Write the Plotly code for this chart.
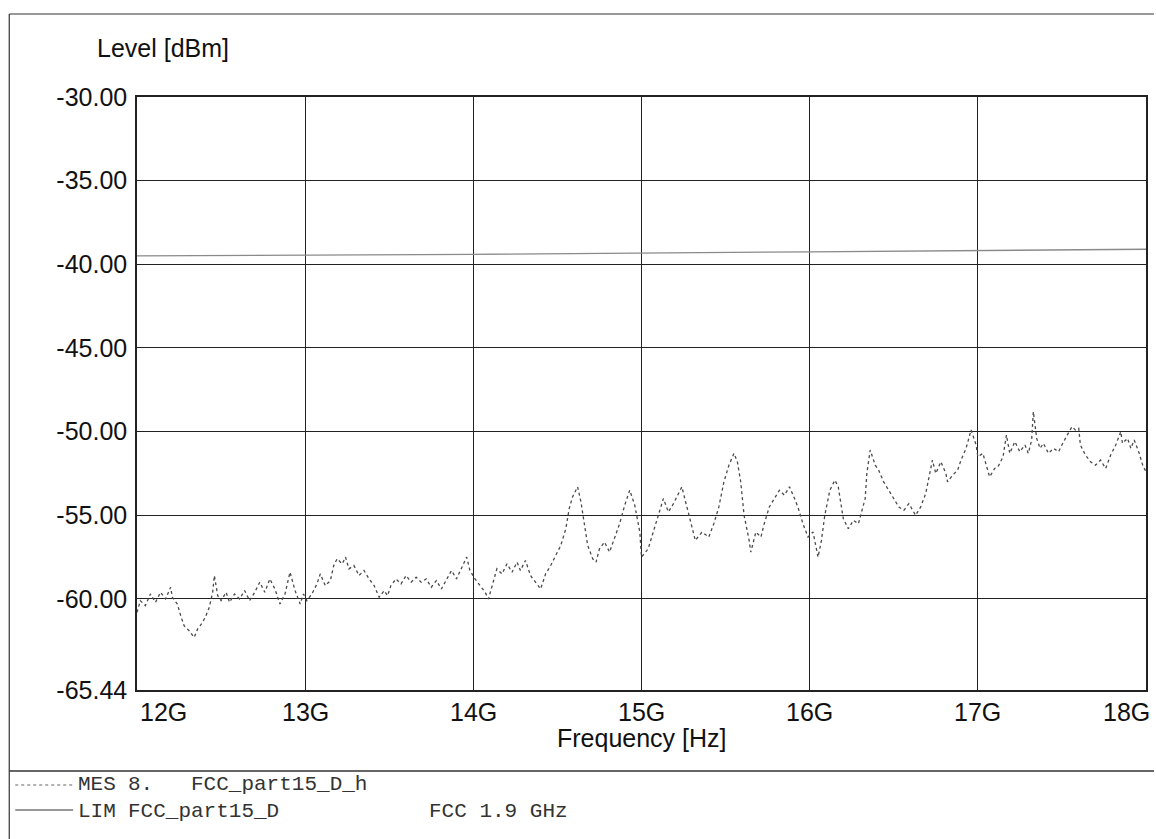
import plotly.graph_objects as go

# ---------------- data ----------------
mes_freq_ghz = [
    12.00, 12.02, 12.05, 12.08, 12.11, 12.14, 12.17, 12.20, 12.21, 12.24,
    12.26, 12.28, 12.31, 12.34, 12.36, 12.39, 12.41, 12.43, 12.45, 12.46,
    12.48, 12.50, 12.53, 12.55, 12.58, 12.61, 12.64, 12.67, 12.70, 12.73,
    12.76, 12.79, 12.82, 12.85, 12.88, 12.91, 12.94, 12.97, 12.99, 13.01,
    13.04, 13.07, 13.09, 13.12, 13.15, 13.17, 13.19, 13.22, 13.24, 13.26,
    13.29, 13.32, 13.35, 13.38, 13.41, 13.44, 13.47, 13.49, 13.51, 13.54,
    13.57, 13.60, 13.63, 13.66, 13.69, 13.72, 13.75, 13.78, 13.81, 13.84,
    13.87, 13.90, 13.93, 13.96, 13.98, 14.01, 14.04, 14.07, 14.09, 14.11,
    14.14, 14.17, 14.20, 14.23, 14.26, 14.28, 14.31, 14.34, 14.37, 14.40,
    14.43, 14.46, 14.49, 14.52, 14.55, 14.57, 14.59, 14.62, 14.64, 14.66,
    14.68, 14.71, 14.73, 14.75, 14.78, 14.81, 14.84, 14.87, 14.90, 14.93,
    14.96, 14.99, 15.00, 15.04, 15.07, 15.10, 15.13, 15.16, 15.19, 15.24,
    15.27, 15.30, 15.32, 15.36, 15.40, 15.43, 15.46, 15.49, 15.52, 15.55,
    15.57, 15.59, 15.61, 15.64, 15.65, 15.68, 15.71, 15.73, 15.76, 15.79,
    15.82, 15.85, 15.88, 15.91, 15.93, 15.96, 15.99, 16.02, 16.05, 16.07,
    16.09, 16.12, 16.15, 16.17, 16.20, 16.23, 16.26, 16.29, 16.33, 16.34,
    16.36, 16.39, 16.41, 16.44, 16.47, 16.50, 16.53, 16.56, 16.59, 16.63,
    16.66, 16.69, 16.71, 16.73, 16.75, 16.78, 16.81, 16.82, 16.85, 16.88,
    16.90, 16.93, 16.96, 16.99, 17.00, 17.03, 17.07, 17.10, 17.12, 17.15,
    17.17, 17.19, 17.22, 17.25, 17.28, 17.30, 17.32, 17.33, 17.35, 17.37,
    17.39, 17.42, 17.45, 17.48, 17.51, 17.54, 17.56, 17.58, 17.60, 17.61,
    17.64, 17.67, 17.70, 17.73, 17.76, 17.79, 17.82, 17.85, 17.86, 17.89,
    17.91, 17.93, 17.96, 17.98, 18.00,
]
mes_level_dbm = [
    -60.8, -60.1, -60.4, -59.7, -60.2, -59.6, -60.0, -59.3, -59.9, -60.3,
    -61.0, -61.6, -61.9, -62.3, -61.8, -61.4, -61.0, -60.5, -59.6, -58.6,
    -59.8, -60.1, -59.6, -60.2, -59.7, -60.0, -59.5, -60.1, -59.6, -59.0,
    -59.6, -58.8, -59.4, -60.3, -59.7, -58.4, -59.5, -60.3, -59.7, -60.1,
    -59.7, -59.1, -58.5, -59.2, -58.9, -58.0, -57.6, -57.9, -57.5, -58.2,
    -58.0, -58.6, -58.3, -58.8, -59.2, -59.9, -59.5, -59.8, -59.2, -58.8,
    -59.1, -58.6, -59.0, -58.7, -59.0, -58.8, -59.3, -58.9, -59.4, -58.8,
    -58.3, -58.8, -58.2, -57.5, -58.3, -58.8, -59.2, -59.6, -60.0, -59.3,
    -58.2, -58.5, -57.9, -58.4, -57.8, -58.3, -57.7, -58.6, -59.0, -59.4,
    -58.5, -58.0, -57.4, -56.8, -55.8, -54.6, -53.9, -53.3, -54.2, -55.5,
    -56.8, -57.6, -57.8, -57.0, -56.6, -57.2, -56.3, -55.5, -54.4, -53.5,
    -54.4, -56.0, -57.5, -57.0, -56.0, -55.0, -54.0, -54.8, -54.3, -53.3,
    -54.5, -55.8, -56.5, -56.0, -56.3, -55.5, -54.5, -53.0, -52.0, -51.3,
    -51.8, -53.0, -55.0, -56.5, -57.2, -56.0, -56.3, -55.5, -54.5, -54.0,
    -53.5, -53.8, -53.3, -54.0, -54.5, -55.5, -56.3, -56.0, -57.5, -56.5,
    -55.0, -53.5, -52.9, -53.3, -55.2, -55.8, -55.3, -55.5, -54.0, -52.5,
    -51.1, -52.0, -52.3, -53.0, -53.5, -54.0, -54.5, -54.7, -54.3, -55.0,
    -54.5, -53.7, -52.8, -51.7, -52.5, -51.8, -52.5, -53.0, -52.6, -52.3,
    -51.7, -51.0, -49.9, -50.8, -51.5, -51.3, -52.7, -52.2, -52.1, -51.5,
    -50.2, -51.3, -50.6, -51.2, -50.8, -51.3, -50.5, -48.8, -50.4, -51.0,
    -50.7, -51.3, -51.0, -51.2, -50.6, -50.1, -49.7, -49.9, -49.8, -50.8,
    -51.4, -51.8, -52.0, -51.7, -52.2, -51.4, -50.8, -50.0, -50.7, -50.4,
    -51.0, -50.5, -51.3, -52.0, -52.4,
]

lim_freq_ghz = [12.0, 14.0, 16.0, 18.0]
lim_level_dbm = [-39.5, -39.4, -39.25, -39.1]

x_tick_vals = [12, 13, 14, 15, 16, 17, 18]
x_tick_text = ["12G", "13G", "14G", "15G", "16G", "17G", "18G"]
y_tick_vals = [-30, -35, -40, -45, -50, -55, -60, -65.44]
y_tick_text = ["-30.00", "-35.00", "-40.00", "-45.00", "-50.00", "-55.00", "-60.00", "-65.44"]

legend_tags = ["MES", "LIM"]
legend_names = ["8.\u00a0\u00a0\u00a0FCC_part15_D_h", "FCC_part15_D"]
legend_note = "FCC 1.9 GHz"

# ---------------- figure ----------------
W, H = 1156, 839
L, R, T, B = 137, 8, 97, 149
pw, ph = W - L - R, H - T - B


def px(xp):
    return (xp - L) / pw


def py(yp):
    return (H - B - yp) / ph


SANS = "Liberation Sans, Arial, sans-serif"
MONO = "Liberation Mono, Courier New, monospace"
FS = 25
MFS = 21

fig = go.Figure()
fig.add_trace(go.Scatter(
    x=lim_freq_ghz, y=lim_level_dbm, mode="lines",
    line=dict(color="#8a8a8a", width=1.3), hoverinfo="skip", showlegend=False))
fig.add_trace(go.Scatter(
    x=mes_freq_ghz, y=mes_level_dbm, mode="lines",
    line=dict(color="#4a4a4a", width=1.3, dash="dot"), showlegend=False))

fig.update_layout(
    width=W, height=H,
    margin=dict(l=L, r=R, t=T, b=B),
    paper_bgcolor="white", plot_bgcolor="white",
    font=dict(family=SANS, size=FS, color="#111"),
    xaxis=dict(range=[12, 18], tickvals=x_tick_vals[1:-1], showticklabels=False,
               showgrid=True, gridcolor="#222", gridwidth=1, zeroline=False,
               showline=True, mirror=True, linecolor="#222", linewidth=1.5, ticks=""),
    yaxis=dict(range=[-65.44, -30], tickvals=y_tick_vals, ticktext=y_tick_text,
               showgrid=True, gridcolor="#222", gridwidth=1, zeroline=False,
               showline=True, mirror=True, linecolor="#222", linewidth=1.5,
               ticks="", ticklabelstandoff=3,
               tickfont=dict(family=SANS, size=FS, color="#111")),
)

annotations = []
for v, t in zip(x_tick_vals, x_tick_text):
    if v == x_tick_vals[0]:
        anc, shift = "left", 1
    elif v == x_tick_vals[-1]:
        anc, shift = "right", 6
    else:
        anc, shift = "center", 0
    annotations.append(dict(x=v, xref="x", y=py(696), yref="paper", text=t,
                            showarrow=False, xanchor=anc, yanchor="top", xshift=shift,
                            font=dict(family=SANS, size=FS, color="#111")))
annotations.append(dict(x=px(643), xref="paper", y=py(738), yref="paper", text="Frequency [Hz]",
                        showarrow=False, xanchor="center", yanchor="middle",
                        font=dict(family=SANS, size=FS, color="#111")))
annotations.append(dict(x=px(95), xref="paper", y=py(48), yref="paper", text="Level [dBm]",
                        showarrow=False, xanchor="left", yanchor="middle",
                        font=dict(family=SANS, size=FS, color="#111")))

# legend block (two rows per column, one text each)
legend_mid = 797.5
annotations.append(dict(x=px(76), xref="paper", y=py(legend_mid), yref="paper",
                        text="<br>".join(legend_tags), align="left",
                        showarrow=False, xanchor="left", yanchor="middle",
                        font=dict(family=MONO, size=MFS, color="#333")))
annotations.append(dict(x=px(126), xref="paper", y=py(legend_mid), yref="paper",
                        text="<br>".join(legend_names), align="left",
                        showarrow=False, xanchor="left", yanchor="middle",
                        font=dict(family=MONO, size=MFS, color="#333")))
annotations.append(dict(x=px(428), xref="paper", y=py(811), yref="paper",
                        text=legend_note, align="left",
                        showarrow=False, xanchor="left", yanchor="middle",
                        font=dict(family=MONO, size=MFS, color="#333")))
fig.update_layout(annotations=annotations)

shapes = [
    # outer frame
    dict(type="line", xref="paper", yref="paper", x0=px(9), x1=px(1156), y0=py(14), y1=py(14),
         line=dict(color="#333", width=1.2)),
    dict(type="line", xref="paper", yref="paper", x0=px(9), x1=px(9), y0=py(14), y1=py(839),
         line=dict(color="#333", width=1.2)),
    dict(type="line", xref="paper", yref="paper", x0=px(9), x1=px(1156), y0=py(771), y1=py(771),
         line=dict(color="#333", width=1.5)),
    # legend line samples
    dict(type="line", xref="paper", yref="paper", x0=px(15), x1=px(73), y0=py(785), y1=py(785),
         line=dict(color="#666", width=1, dash="dot")),
    dict(type="line", xref="paper", yref="paper", x0=px(15), x1=px(73), y0=py(810), y1=py(810),
         line=dict(color="#333", width=1.2)),
]
fig.update_layout(shapes=shapes)

fig.write_html("out.html", config={"displayModeBar": False},
               post_script="document.body.style.margin='0';document.body.style.overflow='hidden';")
